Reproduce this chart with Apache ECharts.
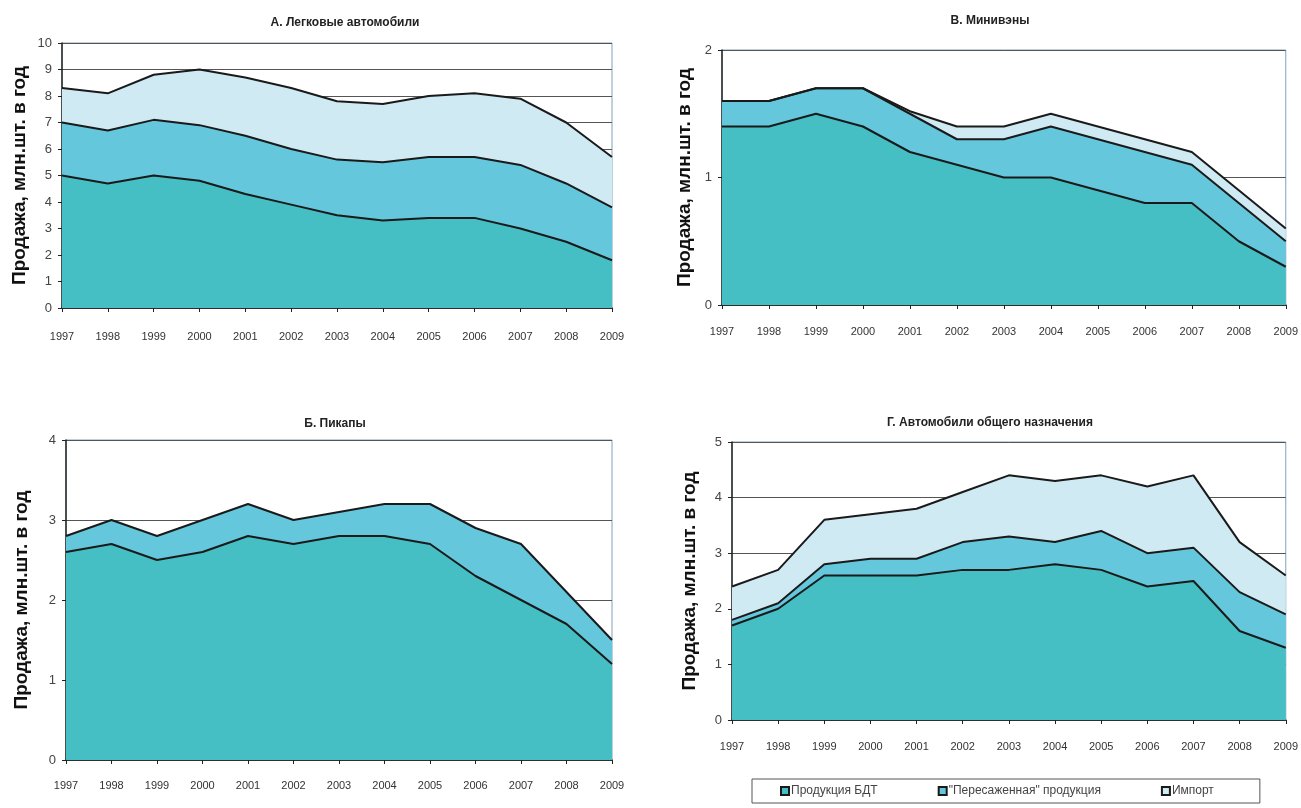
<!DOCTYPE html>
<html lang="ru">
<head>
  <meta charset="UTF-8">
  <title>Продажа автомобилей</title>
  <script src="https://cdn.jsdelivr.net/npm/echarts@6/dist/echarts.min.js"></script>
  <style>
    html, body { margin: 0; padding: 0; background: #fff; }
    #chart { width: 1301px; height: 808px; }
  </style>
</head>
<body>
<div id="chart"></div>
<script>
  var years = ['1997','1998','1999','2000','2001','2002','2003','2004','2005','2006','2007','2008','2009'];
  var seriesNames = ['Продукция БДТ', '"Пересаженная" продукция', 'Импорт'];

  // А. Легковые автомобили
  var carsBdt    = [5.0, 4.7, 5.0, 4.8, 4.3, 3.9, 3.5, 3.3, 3.4, 3.4, 3.0, 2.5, 1.8];
  var carsMoved  = [2.0, 2.0, 2.1, 2.1, 2.2, 2.1, 2.1, 2.2, 2.3, 2.3, 2.4, 2.2, 2.0];
  var carsImport = [1.3, 1.4, 1.7, 2.1, 2.2, 2.3, 2.2, 2.2, 2.3, 2.4, 2.5, 2.3, 1.9];

  // В. Минивэны
  var vansBdt    = [1.4, 1.4, 1.5, 1.4, 1.2, 1.1, 1.0, 1.0, 0.9, 0.8, 0.8, 0.5, 0.3];
  var vansMoved  = [0.2, 0.2, 0.2, 0.3, 0.3, 0.2, 0.3, 0.4, 0.4, 0.4, 0.3, 0.3, 0.2];
  var vansImport = [0, 0, 0, 0, 0.02, 0.1, 0.1, 0.1, 0.1, 0.1, 0.1, 0.1, 0.1];

  // Б. Пикапы
  var pickBdt    = [2.6, 2.7, 2.5, 2.6, 2.8, 2.7, 2.8, 2.8, 2.7, 2.3, 2.0, 1.7, 1.2];
  var pickMoved  = [0.2, 0.3, 0.3, 0.4, 0.4, 0.3, 0.3, 0.4, 0.5, 0.6, 0.7, 0.4, 0.3];

  // Г. Автомобили общего назначения
  var suvBdt     = [1.7, 2.0, 2.6, 2.6, 2.6, 2.7, 2.7, 2.8, 2.7, 2.4, 2.5, 1.6, 1.3];
  var suvMoved   = [0.1, 0.1, 0.2, 0.3, 0.3, 0.5, 0.6, 0.4, 0.7, 0.6, 0.6, 0.7, 0.6];
  var suvImport  = [0.6, 0.6, 0.8, 0.8, 0.9, 0.9, 1.1, 1.1, 1.0, 1.2, 1.3, 0.9, 0.7];

  var colors = ['#45bfc3', '#64c7dc', '#d0eaf3'];
  var font = 'Liberation Sans, Arial, sans-serif';

  var grids = [
    { left: 62, top: 43, width: 550, height: 265 },
    { left: 722, top: 50, width: 574, height: 255 },
    { left: 66, top: 440, width: 546, height: 320 },
    { left: 732, top: 442, width: 564, height: 278 }
  ];
  var titles = [
    { text: 'А. Легковые автомобили', x: 340, y: 12 },
    { text: 'В. Минивэны', x: 985, y: 10 },
    { text: 'Б. Пикапы', x: 330, y: 413 },
    { text: 'Г. Автомобили общего назначения', x: 985, y: 412 }
  ];
  var yMax = [10, 2, 4, 5];
  var nameGaps = [33, 28, 35, 33];
  var labelMargins = [23, 21, 20, 21];

  function xAxis(i) {
    return {
      type: 'category', gridIndex: i, data: years, boundaryGap: false,
      axisLine: { lineStyle: { color: '#222', width: 1.5 } },
      axisTick: { show: true, alignWithLabel: true, length: 4, lineStyle: { color: '#222' } },
      axisLabel: { color: '#333', fontSize: 11, fontFamily: font, margin: labelMargins[i], interval: 0 },
      splitLine: { show: false }
    };
  }
  function yAxis(i) {
    return {
      type: 'value', gridIndex: i, min: 0, max: yMax[i], interval: 1,
      name: 'Продажа, млн.шт. в год', nameLocation: 'middle', nameGap: nameGaps[i], nameRotate: 90,
      nameTextStyle: { color: '#111', fontSize: 19, fontWeight: 'bold', fontFamily: font },
      axisLine: { show: true, lineStyle: { color: '#222', width: 1.5 } },
      axisTick: { show: true, length: 4, lineStyle: { color: '#222' } },
      axisLabel: { color: '#444', fontSize: 13, fontFamily: font, margin: 10 },
      splitLine: { show: true, lineStyle: { color: '#555', width: 1 } }
    };
  }
  function area(name, data, i, stack, ci) {
    return {
      name: name, type: 'line', xAxisIndex: i, yAxisIndex: i, stack: stack,
      data: data, symbol: 'none', smooth: false,
      lineStyle: { color: '#1a1a1a', width: 2 },
      areaStyle: { color: colors[ci], opacity: 1 },
      itemStyle: { color: colors[ci], borderColor: '#1a1a1a', borderWidth: 1 },
      emphasis: { disabled: true }
    };
  }

  var chart = echarts.init(document.getElementById('chart'));
  var option = {
    animation: false,
    backgroundColor: '#fff',
    title: titles.map(function (t) {
      return {
        text: t.text, left: t.x, top: t.y, textAlign: 'center',
        textStyle: { fontSize: 12, fontWeight: 'bold', color: '#222', fontFamily: font }
      };
    }),
    grid: grids.map(function (g) {
      return { left: g.left, top: g.top, width: g.width, height: g.height,
        show: true, borderColor: '#7fa3b8', borderWidth: 1, backgroundColor: 'transparent' };
    }),
    xAxis: [0, 1, 2, 3].map(xAxis),
    yAxis: [0, 1, 2, 3].map(yAxis),
    legend: {
      left: 752, top: 779,
      data: seriesNames,
      backgroundColor: '#fff', borderColor: '#555', borderWidth: 1,
      padding: [6, 46, 6, 28], itemGap: 60, itemWidth: 8, itemHeight: 8,
      icon: 'rect',
      textStyle: { fontSize: 12, color: '#444', fontFamily: font, padding: [0, 0, 0, -3] }
    },
    series: [
      area(seriesNames[0], carsBdt, 0, 'a', 0),
      area(seriesNames[1], carsMoved, 0, 'a', 1),
      area(seriesNames[2], carsImport, 0, 'a', 2),
      area(seriesNames[0], vansBdt, 1, 'b', 0),
      area(seriesNames[1], vansMoved, 1, 'b', 1),
      area(seriesNames[2], vansImport, 1, 'b', 2),
      area(seriesNames[0], pickBdt, 2, 'c', 0),
      area(seriesNames[1], pickMoved, 2, 'c', 1),
      area(seriesNames[0], suvBdt, 3, 'd', 0),
      area(seriesNames[1], suvMoved, 3, 'd', 1),
      area(seriesNames[2], suvImport, 3, 'd', 2)
    ]
  };
  chart.setOption(option);
</script>
</body>
</html>
